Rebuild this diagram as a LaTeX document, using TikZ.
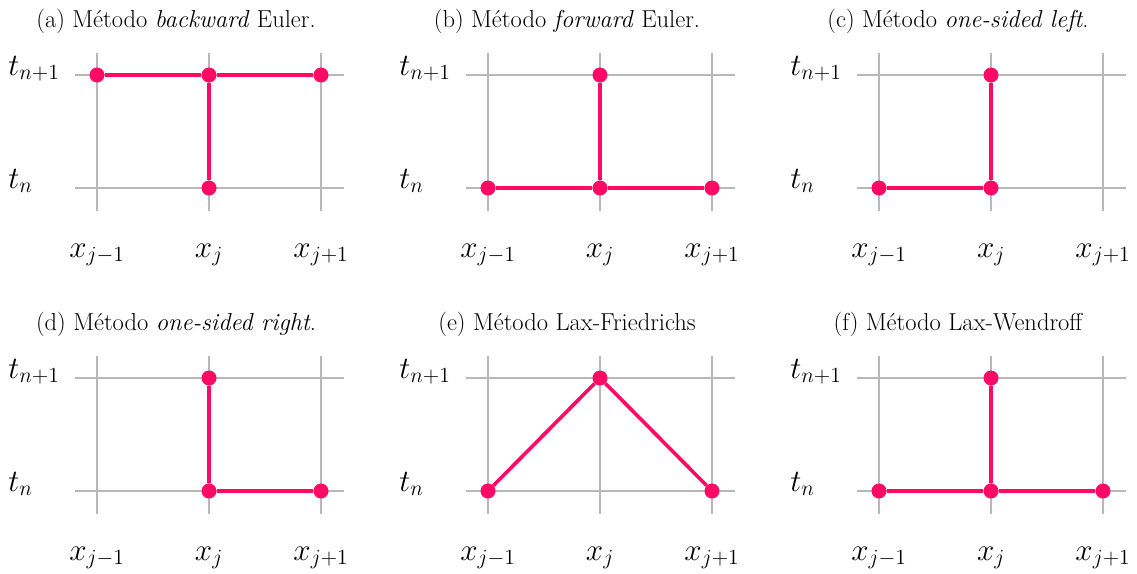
\documentclass[tikz,border=0pt]{standalone}
\usepackage{fontspec}
\definecolor{pinkline}{RGB}{255,10,100}
\definecolor{gridgray}{RGB}{184,184,184}
\tikzset{
  gridline/.style={draw=gridgray,line width=1.6pt},
  link/.style={draw=pinkline,line width=3.6pt},
  dot/.style={circle,fill=pinkline,inner sep=0pt,minimum size=15pt},
  titletext/.style={anchor=base,inner sep=0pt,font=\fontsize{24.5}{29}\selectfont},
  lab/.style={inner sep=0pt,font=\fontsize{20.74}{25}\selectfont,scale=1.5,transform shape},
}
\newcommand\gridpanel[4]{%
  \begin{scope}[shift={(#1,#2)}]
    \node[titletext] (#3title) at (176,27) {#4};
    \draw[gridline] (97,53) -- (97,211);
    \draw[gridline] (209,53) -- (209,211);
    \draw[gridline] (321,53) -- (321,211);
    \draw[gridline] (75,75) -- (344,75);
    \draw[gridline] (75,188) -- (344,188);
    \coordinate (#3LT) at (97,75);
    \coordinate (#3CT) at (209,75);
    \coordinate (#3RT) at (321,75);
    \coordinate (#3LB) at (97,188);
    \coordinate (#3CB) at (209,188);
    \coordinate (#3RB) at (321,188);
    \node[lab,anchor=base west] (#3tt) at (8,75) {$t_{n+1}$};
    \node[lab,anchor=base west] (#3tb) at (8,188) {$t_{n}$};
    \node[lab,anchor=base] (#3xl) at (97,257) {$x_{j-1}$};
    \node[lab,anchor=base] (#3xc) at (209,257) {$x_{j}$};
    \node[lab,anchor=base] (#3xr) at (321,257) {$x_{j+1}$};
  \end{scope}}
\begin{document}
\begin{tikzpicture}[x=1pt,y=-1pt]
\useasboundingbox (0,0) rectangle (1137,573);
% panels
\gridpanel{0}{0}{a}{(a) Método \textit{backward} Euler.}
\gridpanel{391}{0}{b}{(b) Método \textit{forward} Euler.}
\gridpanel{782}{0}{c}{(c) Método \textit{one-sided left}.}
\gridpanel{0}{303}{d}{(d) Método \textit{one-sided right}.}
\gridpanel{391}{303}{e}{(e) Método Lax-Friedrichs}
\gridpanel{782}{303}{f}{(f) Método Lax-Wendroff}
% (a)
\node[dot] (a1) at (aLT) {};
\node[dot] (a2) at (aCT) {};
\node[dot] (a3) at (aRT) {};
\node[dot] (a4) at (aCB) {};
\draw[link] (a1) -- (a2) -- (a3);
\draw[link] (a2) -- (a4);
% (b)
\node[dot] (b1) at (bCT) {};
\node[dot] (b2) at (bLB) {};
\node[dot] (b3) at (bCB) {};
\node[dot] (b4) at (bRB) {};
\draw[link] (b2) -- (b3) -- (b4);
\draw[link] (b3) -- (b1);
% (c)
\node[dot] (c1) at (cCT) {};
\node[dot] (c2) at (cLB) {};
\node[dot] (c3) at (cCB) {};
\draw[link] (c2) -- (c3) -- (c1);
% (d)
\node[dot] (d1) at (dCT) {};
\node[dot] (d2) at (dCB) {};
\node[dot] (d3) at (dRB) {};
\draw[link] (d1) -- (d2) -- (d3);
% (e)
\node[dot] (e1) at (eLB) {};
\node[dot] (e2) at (eCT) {};
\node[dot] (e3) at (eRB) {};
\draw[link] (e1) -- (e2) -- (e3);
% (f)
\node[dot] (f1) at (fCT) {};
\node[dot] (f2) at (fLB) {};
\node[dot] (f3) at (fCB) {};
\node[dot] (f4) at (fRB) {};
\draw[link] (f2) -- (f3) -- (f4);
\draw[link] (f3) -- (f1);
\end{tikzpicture}
\end{document}
